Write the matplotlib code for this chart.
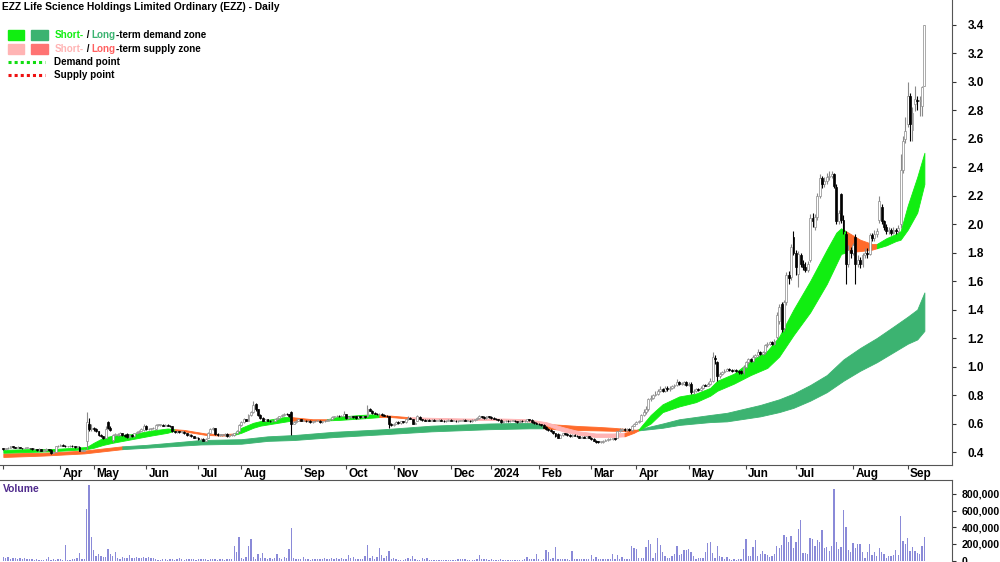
import matplotlib
matplotlib.use("Agg")
import matplotlib.pyplot as plt
from matplotlib.patches import Rectangle
from matplotlib.transforms import blended_transform_factory
import numpy as np

# daily bars (one per trading day with trades)
opens = [
    0.425, 0.42, 0.425, 0.43, 0.44, 0.435, 0.43, 0.435, 0.43, 0.425,
    0.43, 0.43, 0.425, 0.42, 0.42, 0.415, 0.42, 0.41, 0.415, 0.42,
    0.415, 0.395, 0.40, 0.44, 0.445, 0.45, 0.445, 0.44, 0.44, 0.445,
    0.44, 0.435, 0.435, 0.41, 0.41, 0.48, 0.60, 0.56, 0.57, 0.56,
    0.545, 0.52, 0.51, 0.50, 0.61, 0.57, 0.485, 0.52, 0.52, 0.52,
    0.53, 0.52, 0.525, 0.505, 0.52, 0.51, 0.53, 0.54, 0.55, 0.555,
    0.585, 0.56, 0.56, 0.565, 0.56, 0.59, 0.59, 0.59, 0.585, 0.59,
    0.585, 0.58, 0.545, 0.54, 0.545, 0.54, 0.54, 0.53, 0.52, 0.52,
    0.51, 0.50, 0.50, 0.49, 0.49, 0.48, 0.50, 0.535, 0.56, 0.565,
    0.525, 0.52, 0.52, 0.52, 0.525, 0.51, 0.52, 0.52, 0.53, 0.55,
    0.59, 0.61, 0.63, 0.62, 0.66, 0.68, 0.74, 0.70, 0.66, 0.64,
    0.62, 0.63, 0.62, 0.615, 0.62, 0.63, 0.64, 0.65, 0.66, 0.67,
    0.665, 0.68, 0.60, 0.61, 0.62, 0.63, 0.62, 0.62, 0.615, 0.62,
    0.61, 0.615, 0.62, 0.62, 0.61, 0.615, 0.62, 0.625, 0.63, 0.645,
    0.65, 0.655, 0.65, 0.655, 0.665, 0.64, 0.645, 0.65, 0.65, 0.64,
    0.65, 0.645, 0.65, 0.65, 0.70, 0.69, 0.675, 0.67, 0.665, 0.67,
    0.66, 0.655, 0.65, 0.60, 0.59, 0.60, 0.61, 0.605, 0.615, 0.61,
    0.63, 0.64, 0.63, 0.60, 0.62, 0.645, 0.63, 0.625, 0.62, 0.625,
    0.62, 0.625, 0.62, 0.62, 0.625, 0.62, 0.615, 0.62, 0.625, 0.62,
    0.62, 0.615, 0.62, 0.62, 0.625, 0.62, 0.62, 0.615, 0.625, 0.63,
    0.64, 0.65, 0.645, 0.64, 0.65, 0.645, 0.64, 0.635, 0.63, 0.625,
    0.61, 0.615, 0.62, 0.615, 0.62, 0.62, 0.615, 0.61, 0.62, 0.615,
    0.615, 0.63, 0.625, 0.61, 0.605, 0.60, 0.595, 0.59, 0.575, 0.56,
    0.555, 0.545, 0.53, 0.525, 0.50, 0.52, 0.53, 0.525, 0.52, 0.51,
    0.52, 0.515, 0.51, 0.50, 0.505, 0.50, 0.51, 0.50, 0.49, 0.48,
    0.475, 0.47, 0.47, 0.48, 0.485, 0.49, 0.49, 0.495, 0.50, 0.55,
    0.555, 0.56, 0.555, 0.56, 0.555, 0.585, 0.60, 0.61, 0.62, 0.66,
    0.68, 0.70, 0.77, 0.78, 0.80, 0.81, 0.83, 0.84, 0.83, 0.85,
    0.84, 0.85, 0.86, 0.87, 0.89, 0.88, 0.88, 0.89, 0.87, 0.88,
    0.82, 0.83, 0.84, 0.835, 0.85, 0.87, 0.865, 0.88, 0.90, 1.06,
    1.03, 0.93, 0.95, 0.96, 0.97, 0.98, 0.975, 0.97, 0.975, 0.97,
    0.97, 0.96, 1.00, 1.03, 1.05, 1.04, 1.07, 1.08, 1.10, 1.09,
    1.10, 1.15, 1.16, 1.17, 1.16, 1.21, 1.32, 1.44, 1.27, 1.45,
    1.64, 1.63, 1.91, 1.80, 1.65, 1.78, 1.72, 1.70, 1.68, 1.75,
    2.04, 1.98, 2.05, 2.20, 2.32, 2.28, 2.30, 2.33, 2.34, 2.35,
    2.26, 2.02, 2.21, 2.03, 1.93, 1.72, 1.82, 1.80, 1.91, 1.72,
    1.75, 1.72, 1.78, 1.80, 1.79, 1.92, 1.90, 1.93, 2.03, 2.12,
    2.02, 1.98, 1.95, 1.96, 1.94, 1.96, 1.95, 2.00, 2.38, 2.60,
    2.70, 2.90, 2.66, 2.84, 2.87, 2.86, 2.83, 2.97,
]
highs = [
    0.43, 0.43, 0.435, 0.445, 0.44, 0.435, 0.44, 0.435, 0.43, 0.435,
    0.435, 0.43, 0.425, 0.425, 0.42, 0.425, 0.42, 0.42, 0.425, 0.42,
    0.42, 0.41, 0.445, 0.45, 0.455, 0.455, 0.45, 0.445, 0.45, 0.45,
    0.445, 0.445, 0.44, 0.415, 0.42, 0.68, 0.64, 0.60, 0.575, 0.565,
    0.55, 0.525, 0.515, 0.58, 0.62, 0.58, 0.525, 0.53, 0.53, 0.54,
    0.535, 0.525, 0.53, 0.525, 0.525, 0.535, 0.545, 0.555, 0.565, 0.60,
    0.59, 0.565, 0.57, 0.575, 0.60, 0.595, 0.595, 0.595, 0.595, 0.595,
    0.59, 0.585, 0.55, 0.55, 0.55, 0.545, 0.545, 0.535, 0.525, 0.525,
    0.515, 0.505, 0.505, 0.495, 0.495, 0.495, 0.54, 0.57, 0.575, 0.57,
    0.53, 0.525, 0.525, 0.53, 0.53, 0.525, 0.525, 0.535, 0.555, 0.60,
    0.62, 0.64, 0.635, 0.67, 0.69, 0.76, 0.745, 0.70, 0.665, 0.645,
    0.635, 0.635, 0.625, 0.625, 0.635, 0.645, 0.655, 0.665, 0.675, 0.675,
    0.67, 0.69, 0.615, 0.625, 0.635, 0.635, 0.625, 0.625, 0.625, 0.625,
    0.62, 0.625, 0.625, 0.625, 0.62, 0.625, 0.63, 0.635, 0.65, 0.655,
    0.66, 0.66, 0.66, 0.69, 0.67, 0.65, 0.655, 0.655, 0.655, 0.655,
    0.655, 0.655, 0.655, 0.73, 0.71, 0.695, 0.68, 0.675, 0.675, 0.675,
    0.665, 0.66, 0.655, 0.605, 0.605, 0.615, 0.615, 0.62, 0.62, 0.635,
    0.65, 0.645, 0.635, 0.61, 0.66, 0.65, 0.635, 0.63, 0.63, 0.63,
    0.63, 0.63, 0.625, 0.63, 0.63, 0.625, 0.625, 0.63, 0.63, 0.625,
    0.625, 0.625, 0.625, 0.63, 0.63, 0.625, 0.625, 0.63, 0.635, 0.645,
    0.66, 0.655, 0.65, 0.655, 0.655, 0.65, 0.645, 0.64, 0.635, 0.63,
    0.62, 0.625, 0.625, 0.625, 0.625, 0.625, 0.62, 0.625, 0.625, 0.625,
    0.635, 0.635, 0.63, 0.615, 0.61, 0.605, 0.60, 0.595, 0.58, 0.565,
    0.56, 0.55, 0.535, 0.53, 0.525, 0.535, 0.535, 0.53, 0.525, 0.525,
    0.525, 0.52, 0.515, 0.51, 0.51, 0.515, 0.515, 0.505, 0.495, 0.485,
    0.48, 0.475, 0.485, 0.49, 0.495, 0.495, 0.50, 0.50, 0.55, 0.565,
    0.565, 0.565, 0.565, 0.565, 0.59, 0.605, 0.615, 0.625, 0.665, 0.70,
    0.72, 0.78, 0.80, 0.81, 0.83, 0.84, 0.86, 0.85, 0.86, 0.86,
    0.86, 0.87, 0.88, 0.91, 0.90, 0.89, 0.90, 0.90, 0.89, 0.89,
    0.84, 0.85, 0.85, 0.86, 0.88, 0.88, 0.89, 0.92, 1.10, 1.08,
    1.04, 0.96, 0.97, 0.98, 0.99, 0.99, 0.98, 0.98, 0.98, 0.975,
    0.975, 1.01, 1.04, 1.06, 1.06, 1.08, 1.09, 1.12, 1.11, 1.11,
    1.16, 1.17, 1.18, 1.18, 1.19, 1.38, 1.44, 1.45, 1.47, 1.66,
    1.67, 1.86, 1.95, 1.82, 1.81, 1.80, 1.75, 1.73, 1.74, 2.07,
    2.08, 2.07, 2.22, 2.35, 2.34, 2.33, 2.36, 2.37, 2.37, 2.36,
    2.28, 2.10, 2.22, 2.06, 1.95, 1.85, 1.84, 1.87, 1.93, 1.78,
    1.77, 1.80, 1.83, 1.83, 1.94, 1.94, 1.96, 1.97, 2.20, 2.14,
    2.03, 2.00, 1.98, 1.97, 1.98, 1.97, 1.99, 2.49, 2.62, 2.75,
    3.00, 2.92, 2.82, 2.97, 2.90, 2.90, 2.97, 3.40,
]
lows = [
    0.415, 0.415, 0.42, 0.43, 0.43, 0.425, 0.43, 0.425, 0.42, 0.425,
    0.425, 0.42, 0.415, 0.415, 0.41, 0.41, 0.405, 0.405, 0.41, 0.41,
    0.385, 0.39, 0.40, 0.435, 0.44, 0.44, 0.435, 0.435, 0.435, 0.435,
    0.43, 0.43, 0.405, 0.405, 0.405, 0.42, 0.55, 0.55, 0.55, 0.54,
    0.515, 0.505, 0.49, 0.495, 0.56, 0.55, 0.47, 0.51, 0.51, 0.515,
    0.515, 0.505, 0.50, 0.50, 0.505, 0.505, 0.525, 0.535, 0.545, 0.55,
    0.555, 0.555, 0.555, 0.56, 0.555, 0.585, 0.585, 0.58, 0.58, 0.58,
    0.575, 0.54, 0.535, 0.535, 0.535, 0.535, 0.525, 0.515, 0.515, 0.505,
    0.495, 0.495, 0.485, 0.485, 0.475, 0.475, 0.495, 0.53, 0.555, 0.52,
    0.515, 0.515, 0.515, 0.515, 0.505, 0.505, 0.515, 0.515, 0.525, 0.545,
    0.585, 0.605, 0.615, 0.615, 0.655, 0.675, 0.69, 0.655, 0.635, 0.615,
    0.615, 0.615, 0.61, 0.61, 0.615, 0.625, 0.635, 0.645, 0.655, 0.66,
    0.645, 0.52, 0.595, 0.605, 0.615, 0.615, 0.615, 0.61, 0.61, 0.605,
    0.605, 0.61, 0.615, 0.605, 0.605, 0.61, 0.615, 0.62, 0.625, 0.64,
    0.645, 0.645, 0.645, 0.65, 0.635, 0.635, 0.64, 0.64, 0.635, 0.635,
    0.64, 0.64, 0.64, 0.645, 0.685, 0.67, 0.665, 0.66, 0.66, 0.655,
    0.65, 0.645, 0.57, 0.585, 0.585, 0.595, 0.60, 0.60, 0.605, 0.605,
    0.625, 0.63, 0.595, 0.595, 0.615, 0.625, 0.62, 0.615, 0.615, 0.615,
    0.615, 0.615, 0.615, 0.615, 0.615, 0.61, 0.61, 0.615, 0.615, 0.615,
    0.61, 0.61, 0.615, 0.615, 0.615, 0.615, 0.61, 0.61, 0.62, 0.625,
    0.635, 0.64, 0.635, 0.635, 0.64, 0.635, 0.63, 0.625, 0.62, 0.605,
    0.605, 0.61, 0.61, 0.61, 0.615, 0.61, 0.605, 0.605, 0.61, 0.61,
    0.61, 0.62, 0.605, 0.60, 0.595, 0.59, 0.585, 0.565, 0.555, 0.55,
    0.54, 0.525, 0.505, 0.495, 0.495, 0.515, 0.52, 0.515, 0.505, 0.505,
    0.51, 0.505, 0.495, 0.495, 0.495, 0.495, 0.495, 0.485, 0.475, 0.465,
    0.465, 0.465, 0.465, 0.475, 0.48, 0.485, 0.485, 0.485, 0.495, 0.54,
    0.55, 0.55, 0.55, 0.55, 0.55, 0.58, 0.595, 0.605, 0.615, 0.655,
    0.67, 0.69, 0.76, 0.77, 0.79, 0.80, 0.82, 0.82, 0.82, 0.83,
    0.83, 0.84, 0.85, 0.86, 0.87, 0.87, 0.87, 0.86, 0.86, 0.81,
    0.81, 0.82, 0.83, 0.83, 0.84, 0.86, 0.86, 0.87, 0.89, 1.02,
    0.90, 0.92, 0.94, 0.955, 0.965, 0.965, 0.96, 0.965, 0.96, 0.95,
    0.945, 0.95, 0.99, 1.02, 1.03, 1.03, 1.06, 1.07, 1.08, 1.08,
    1.09, 1.14, 1.15, 1.15, 1.15, 1.19, 1.30, 1.24, 1.25, 1.43,
    1.58, 1.61, 1.78, 1.64, 1.56, 1.70, 1.68, 1.66, 1.66, 1.73,
    1.98, 1.96, 2.03, 2.18, 2.25, 2.26, 2.28, 2.31, 2.32, 2.25,
    2.00, 2.00, 2.01, 1.93, 1.58, 1.70, 1.76, 1.78, 1.58, 1.70,
    1.69, 1.70, 1.76, 1.76, 1.78, 1.88, 1.88, 1.91, 2.01, 2.00,
    1.96, 1.93, 1.93, 1.92, 1.93, 1.93, 1.94, 1.97, 2.36, 2.57,
    2.68, 2.58, 2.58, 2.79, 2.80, 2.76, 2.76, 2.97,
]
closes = [
    0.42, 0.425, 0.43, 0.44, 0.435, 0.43, 0.435, 0.43, 0.425, 0.43,
    0.43, 0.425, 0.42, 0.42, 0.415, 0.42, 0.41, 0.415, 0.42, 0.415,
    0.395, 0.40, 0.44, 0.445, 0.45, 0.445, 0.44, 0.44, 0.445, 0.44,
    0.435, 0.44, 0.41, 0.41, 0.415, 0.61, 0.56, 0.57, 0.56, 0.545,
    0.52, 0.51, 0.50, 0.56, 0.57, 0.555, 0.52, 0.52, 0.52, 0.53,
    0.52, 0.51, 0.505, 0.52, 0.51, 0.53, 0.54, 0.55, 0.56, 0.585,
    0.56, 0.56, 0.565, 0.57, 0.59, 0.59, 0.59, 0.585, 0.59, 0.585,
    0.58, 0.545, 0.54, 0.545, 0.54, 0.54, 0.53, 0.52, 0.52, 0.51,
    0.50, 0.50, 0.49, 0.49, 0.48, 0.49, 0.535, 0.56, 0.565, 0.525,
    0.52, 0.52, 0.52, 0.525, 0.51, 0.52, 0.52, 0.53, 0.55, 0.59,
    0.61, 0.63, 0.62, 0.66, 0.68, 0.73, 0.70, 0.66, 0.64, 0.62,
    0.63, 0.62, 0.615, 0.62, 0.63, 0.64, 0.65, 0.66, 0.67, 0.665,
    0.65, 0.60, 0.61, 0.62, 0.63, 0.62, 0.62, 0.615, 0.62, 0.61,
    0.615, 0.62, 0.62, 0.61, 0.615, 0.62, 0.625, 0.63, 0.645, 0.65,
    0.655, 0.65, 0.655, 0.67, 0.64, 0.645, 0.65, 0.645, 0.64, 0.65,
    0.645, 0.65, 0.645, 0.70, 0.69, 0.675, 0.67, 0.665, 0.67, 0.66,
    0.655, 0.65, 0.60, 0.59, 0.60, 0.61, 0.605, 0.615, 0.61, 0.63,
    0.64, 0.635, 0.60, 0.605, 0.655, 0.63, 0.625, 0.62, 0.625, 0.62,
    0.625, 0.62, 0.62, 0.625, 0.62, 0.615, 0.62, 0.625, 0.62, 0.62,
    0.615, 0.62, 0.62, 0.625, 0.62, 0.62, 0.615, 0.625, 0.63, 0.64,
    0.65, 0.645, 0.64, 0.65, 0.645, 0.64, 0.635, 0.63, 0.625, 0.61,
    0.615, 0.62, 0.615, 0.62, 0.62, 0.615, 0.61, 0.62, 0.615, 0.62,
    0.63, 0.625, 0.61, 0.605, 0.60, 0.595, 0.59, 0.57, 0.56, 0.555,
    0.545, 0.53, 0.51, 0.50, 0.52, 0.53, 0.525, 0.52, 0.51, 0.52,
    0.515, 0.51, 0.50, 0.505, 0.50, 0.51, 0.50, 0.49, 0.48, 0.47,
    0.47, 0.47, 0.48, 0.485, 0.49, 0.49, 0.495, 0.49, 0.545, 0.555,
    0.56, 0.555, 0.56, 0.555, 0.585, 0.60, 0.61, 0.62, 0.66, 0.68,
    0.70, 0.77, 0.78, 0.80, 0.81, 0.83, 0.84, 0.83, 0.85, 0.84,
    0.85, 0.86, 0.87, 0.89, 0.88, 0.88, 0.89, 0.87, 0.88, 0.82,
    0.83, 0.84, 0.835, 0.85, 0.87, 0.865, 0.88, 0.90, 1.07, 1.05,
    0.93, 0.95, 0.96, 0.97, 0.98, 0.975, 0.97, 0.975, 0.97, 0.96,
    0.955, 1.00, 1.03, 1.05, 1.04, 1.07, 1.08, 1.10, 1.09, 1.10,
    1.15, 1.16, 1.17, 1.16, 1.18, 1.36, 1.42, 1.26, 1.45, 1.64,
    1.62, 1.84, 1.80, 1.70, 1.79, 1.72, 1.70, 1.68, 1.72, 2.04,
    2.02, 2.05, 2.20, 2.32, 2.28, 2.30, 2.33, 2.34, 2.35, 2.27,
    2.02, 2.08, 2.03, 1.95, 1.72, 1.82, 1.80, 1.85, 1.72, 1.75,
    1.72, 1.78, 1.80, 1.79, 1.92, 1.90, 1.93, 1.95, 2.16, 2.02,
    1.98, 1.95, 1.96, 1.94, 1.96, 1.95, 1.97, 2.38, 2.58, 2.65,
    2.90, 2.70, 2.78, 2.88, 2.86, 2.87, 2.96, 3.40,
]
# volume in thousands of shares
volumes = [
    45, 30, 40, 25, 30, 35, 25, 30, 20, 35,
    20, 25, 15, 10, 15, 10, 5, 10, 15, 41,
    10, 15, 10, 20, 15, 10, 185, 10, 5, 15,
    20, 30, 90, 20, 15, 624, 911, 283, 123, 50,
    78, 50, 45, 40, 140, 82, 57, 107, 30, 25,
    40, 35, 30, 65, 35, 30, 40, 35, 30, 45,
    35, 40, 30, 35, 25, 10, 5, 15, 20, 10,
    15, 20, 10, 25, 30, 15, 10, 20, 25, 15,
    20, 10, 15, 20, 25, 15, 10, 25, 20, 15,
    10, 20, 15, 10, 25, 15, 20, 180, 98, 283,
    33, 20, 40, 172, 263, 41, 25, 82, 30, 86,
    29, 25, 30, 20, 35, 82, 30, 25, 40, 35,
    135, 386, 30, 20, 25, 15, 45, 20, 15, 10,
    15, 20, 25, 20, 15, 30, 20, 25, 30, 20,
    35, 25, 30, 20, 25, 66, 30, 41, 20, 25,
    15, 20, 50, 185, 30, 50, 25, 41, 148, 66,
    30, 57, 119, 25, 33, 15, 10, 5, 10, 20,
    30, 25, 50, 15, 10, 5, 29, 15, 29, 10,
    5, 8, 12, 10, 12, 8, 5, 10, 5, 8,
    10, 25, 15, 25, 20, 10, 8, 5, 10, 15,
    62, 20, 15, 20, 10, 20, 8, 5, 10, 15,
    10, 8, 5, 10, 8, 10, 5, 10, 10, 15,
    45, 25, 20, 25, 78, 15, 10, 20, 131, 107,
    20, 37, 168, 20, 15, 20, 15, 20, 10, 115,
    20, 25, 20, 25, 20, 25, 15, 66, 20, 45,
    25, 25, 20, 25, 25, 20, 74, 20, 70, 20,
    41, 15, 20, 25, 176, 148, 135, 30, 30, 30,
    168, 242, 200, 33, 90, 266, 189, 107, 57, 33,
    33, 57, 74, 176, 65, 78, 131, 131, 139, 107,
    57, 20, 37, 37, 37, 107, 209, 221, 94, 35,
    180, 57, 40, 20, 40, 15, 10, 20, 10, 15,
    25, 143, 262, 55, 57, 168, 250, 57, 74, 115,
    80, 66, 41, 57, 78, 172, 148, 189, 303, 279,
    221, 291, 148, 221, 385, 488, 94, 86, 74, 270,
    254, 180, 242, 221, 365, 148, 168, 119, 180, 857,
    221, 139, 160, 611, 398, 131, 98, 213, 150, 200,
    197, 98, 37, 98, 200, 66, 98, 57, 148, 98,
    78, 37, 50, 57, 66, 131, 66, 537, 234, 200,
    270, 115, 168, 120, 94, 74, 176, 279,
]

# short-term zone edges (bar index, upper, lower) and state: D demand, S supply, P light supply
st_idx = [0, 10, 20, 30, 35, 38, 42, 46, 54, 62, 69, 72, 76, 85, 92, 97, 100, 105, 108, 118,
          121, 130, 136, 141, 150, 155, 158, 163, 170, 180, 195, 210, 220, 228, 235, 242, 249, 256,
          261, 265, 267, 272, 277, 284, 291, 297, 300, 307, 314, 321, 326, 332, 339, 346, 350,
          352, 354, 360, 365, 367, 371, 375, 377, 380, 384, 387]
st_upper = [0.415, 0.42, 0.42, 0.43, 0.435, 0.465, 0.50, 0.515, 0.525, 0.55, 0.565, 0.56, 0.555,
            0.53, 0.525, 0.53, 0.57, 0.605, 0.617, 0.645, 0.645, 0.63, 0.63, 0.648, 0.66, 0.664,
            0.66, 0.655, 0.645, 0.64, 0.635, 0.635, 0.63, 0.61, 0.575, 0.545, 0.53, 0.53, 0.535,
            0.55, 0.56, 0.66, 0.735, 0.79, 0.81, 0.85, 0.90, 0.95, 1.04, 1.11, 1.21, 1.40, 1.60,
            1.82, 1.94, 1.97, 1.95, 1.89, 1.86, 1.86, 1.90, 1.93, 1.95, 2.13, 2.33, 2.50]
st_lower = [0.395, 0.40, 0.405, 0.415, 0.42, 0.43, 0.45, 0.465, 0.49, 0.515, 0.535, 0.55, 0.545,
            0.52, 0.515, 0.52, 0.535, 0.57, 0.585, 0.612, 0.62, 0.62, 0.622, 0.625, 0.635, 0.641,
            0.645, 0.645, 0.635, 0.63, 0.625, 0.625, 0.615, 0.59, 0.545, 0.52, 0.505, 0.505, 0.51,
            0.535, 0.553, 0.60, 0.68, 0.72, 0.75, 0.795, 0.83, 0.88, 0.94, 0.99, 1.07, 1.22, 1.38,
            1.58, 1.72, 1.79, 1.80, 1.81, 1.82, 1.83, 1.85, 1.88, 1.89, 1.96, 2.08, 2.28]
st_state = "DDDDDDDDDDDSSSSDDDDDSSDDDDSSPPPPPPPPPPSSDDDDDDDDDDDDDDDDSSSDDDDDDD"

# long-term zone
lt_idx = [0, 17, 34, 42, 50, 60, 83, 100, 111, 122, 139, 160, 180, 204, 221, 227, 235, 242, 249,
          256, 263, 266, 277, 284, 297, 304, 318, 326, 332, 339, 346, 353, 360, 367, 374, 380, 384,
          387]
lt_upper = [0.39, 0.395, 0.41, 0.425, 0.44, 0.45, 0.484, 0.49, 0.51, 0.519, 0.542, 0.56, 0.585,
            0.60, 0.605, 0.598, 0.59, 0.582, 0.577, 0.57, 0.56, 0.556, 0.60, 0.63, 0.66, 0.675,
            0.73, 0.77, 0.81, 0.87, 0.94, 1.05, 1.13, 1.20, 1.28, 1.35, 1.40, 1.52]
lt_lower = [0.365, 0.375, 0.39, 0.405, 0.42, 0.43, 0.453, 0.458, 0.478, 0.484, 0.505, 0.525, 0.545,
            0.56, 0.566, 0.566, 0.556, 0.554, 0.552, 0.549, 0.548, 0.55, 0.57, 0.59, 0.61, 0.615,
            0.65, 0.68, 0.71, 0.76, 0.82, 0.90, 0.97, 1.03, 1.10, 1.16, 1.19, 1.25]
lt_state = "SSSSDDDDDDDDDDDSSSSSSDDDDDDDDDDDDDDDDD"

month_pos = [0, 24, 38, 60, 82, 100, 125, 144, 164, 188, 205, 225, 247, 266, 288, 312, 333, 357, 380]
month_lab = ["", "Apr", "May", "Jun", "Jul", "Aug", "Sep", "Oct", "Nov", "Dec", "2024",
             "Feb", "Mar", "Apr", "May", "Jun", "Jul", "Aug", "Sep"]
price_ticks = [0.4, 0.6, 0.8, 1.0, 1.2, 1.4, 1.6, 1.8, 2.0, 2.2, 2.4, 2.6, 2.8, 3.0, 3.2, 3.4]
vol_ticks = [0, 200000, 400000, 600000, 800000]

zone_colors = {"D": "#11ee11", "S": "#ff6b2b", "P": "#ffb4b4"}
lt_colors = {"D": "#3cb371", "S": "#ff6b2b"}

W, H = 1000, 562
plt.rcParams["font.family"] = ["Liberation Sans", "DejaVu Sans"]
plt.rcParams["font.weight"] = "bold"
fig = plt.figure(figsize=(W / 100, H / 100), dpi=100)

ax = fig.add_axes([0, 97 / H, 0.952, 465 / H])
axv = fig.add_axes([0, 0, 0.952, 82 / H])

x = np.arange(len(closes))
o = np.array(opens)
hi = np.array(highs)
lo = np.array(lows)
c = np.array(closes)
up = c >= o


def draw_zone(a, idx, upper, lower, state, colors):
    idx = np.array(idx)
    upper = np.array(upper)
    lower = np.array(lower)
    n = len(idx)
    k = 0
    while k < n - 1:
        m = k
        while m + 1 < n - 1 and state[m + 1] == state[k]:
            m += 1
        sl = slice(k, m + 2)
        a.fill_between(idx[sl], lower[sl], upper[sl], color=colors[state[k]], lw=0.6, zorder=2)
        k = m + 1


draw_zone(ax, lt_idx, lt_upper, lt_lower, lt_state, lt_colors)
draw_zone(ax, st_idx, st_upper, st_lower, st_state, zone_colors)

# candles
ax.vlines(x[up], lo[up], hi[up], color="#8a8a8a", lw=0.8, zorder=3)
ax.vlines(x[~up], lo[~up], hi[~up], color="black", lw=0.8, zorder=3)
body_lo = np.minimum(o, c)
body_h = np.maximum(np.abs(c - o), 0.004)
ax.bar(x[up], body_h[up], bottom=body_lo[up], width=0.8, color="white",
       edgecolor="#8a8a8a", linewidth=0.5, zorder=4)
ax.bar(x[~up], body_h[~up], bottom=body_lo[~up], width=0.8, color="black",
       edgecolor="black", linewidth=0.5, zorder=4)

ax.set_xlim(-1.4, 398.6)
ax.set_ylim(0.3088, 3.572)
ax.yaxis.tick_right()
ax.set_yticks(price_ticks)
ax.set_yticklabels([f"{t:.1f}" for t in price_ticks])
ax.tick_params(axis="y", direction="out", length=3, pad=8, labelsize=8.5, colors="#333333",
               labelcolor="black")
ax.set_xticks(month_pos)
ax.tick_params(axis="x", direction="out", length=3, labelbottom=False, colors="#444444")
for s in ["top", "left"]:
    ax.spines[s].set_visible(False)
for s in ["bottom", "right"]:
    ax.spines[s].set_color("#555555")
    ax.spines[s].set_linewidth(0.8)
ax.patch.set_alpha(0)

tr = blended_transform_factory(ax.transData, ax.transAxes)
for p, lab in zip(month_pos, month_lab):
    ax.text(p + 1.0, -0.0195, lab, transform=tr, ha="left", va="center", fontsize=8.5,
            fontweight="bold", clip_on=False)

# volume panel
axv.bar(x, np.array(volumes) * 1000, width=0.55, color="#8a8ad8", zorder=2)
axv.set_xlim(-1.4, 398.6)
axv.set_ylim(-17000, 968000)
axv.yaxis.tick_right()
axv.set_yticks(vol_ticks)
axv.set_yticklabels([f"{v:,}" for v in vol_ticks])
axv.tick_params(axis="y", direction="out", length=3, pad=4, labelsize=7.6, colors="#333333",
                labelcolor="black")
axv.set_xticks([])
for s in ["bottom", "left"]:
    axv.spines[s].set_visible(False)
for s in ["top", "right"]:
    axv.spines[s].set_color("#555555")
    axv.spines[s].set_linewidth(0.8)
axv.patch.set_alpha(0)

# overlay in pixel coordinates for title and legend
ov = fig.add_axes([0, 0, 1, 1])
ov.set_xlim(0, W)
ov.set_ylim(H, 0)
ov.axis("off")

ov.text(2, 7, "EZZ Life Science Holdings Limited Ordinary (EZZ) - Daily", fontsize=7.4,
        fontweight="bold", va="center", ha="left")
ov.text(3, 489, "Volume", fontsize=7.4, fontweight="bold", color="#4f2a8c", va="center", ha="left")

renderer = fig.canvas.get_renderer()


def text_runs(x0, y0, parts, size=7.1):
    xx = x0
    for s, col in parts:
        t = ov.text(xx, y0, s, fontsize=size, fontweight="bold", color=col, va="center", ha="left")
        xx += t.get_window_extent(renderer=renderer).width


ov.add_patch(Rectangle((7.5, 30), 16, 10, color="#11ee11"))
ov.add_patch(Rectangle((31, 30), 17, 10, color="#3cb371"))
ov.add_patch(Rectangle((7.5, 43.5), 16, 10, color="#ffb4b4"))
ov.add_patch(Rectangle((31, 43.5), 17, 10, color="#ff7373"))
text_runs(54.5, 35, [("Short-", "#11ee11"), (" / ", "black"), ("Long", "#3cb371"),
                     ("-term demand zone", "black")])
text_runs(54.5, 48.5, [("Short-", "#ffb4b4"), (" / ", "black"), ("Long", "#ff6060"),
                       ("-term supply zone", "black")])
ov.plot([8, 45], [62, 62], color="#11dd11", lw=2.2, linestyle=(0, (1, 1)))
ov.plot([8, 45], [75, 75], color="#ee1111", lw=2.2, linestyle=(0, (1, 1)))
ov.text(54.5, 62, "Demand point", fontsize=7.1, fontweight="bold", va="center", ha="left")
ov.text(54.5, 75, "Supply point", fontsize=7.1, fontweight="bold", va="center", ha="left")

fig.savefig("out.png", dpi=100)
